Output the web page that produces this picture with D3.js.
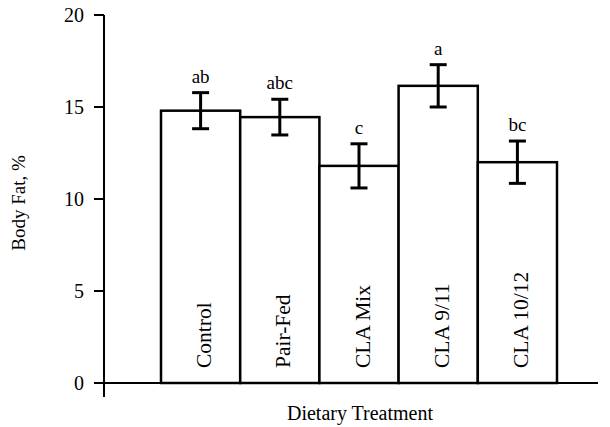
<!DOCTYPE html>
<html>
<head>
<meta charset="utf-8">
<script src="https://cdn.jsdelivr.net/npm/d3@7"></script>
<style>
  body { margin: 0; background: #fff; }
</style>
</head>
<body>
<svg width="610" height="427"></svg>
<script>
const treatments = ["Control", "Pair-Fed", "CLA Mix", "CLA 9/11", "CLA 10/12"]
const bodyFat = [14.8, 14.45, 11.8, 16.15, 12.0]
const stdErr = [0.98, 0.97, 1.2, 1.15, 1.15]
const letters = ["ab", "abc", "c", "a", "bc"]
const yTicks = [0, 5, 10, 15, 20]

const serif = "'Liberation Serif', 'Times New Roman', Times, serif"

const svg = d3.select("svg")
    .style("font-family", serif)

const x = d3.scaleBand().domain(treatments).range([161, 557]).padding(0)
const y = d3.scaleLinear().domain([0, 20]).range([383, 15])

const data = treatments.map((t, i) => ({
    name: t,
    value: bodyFat[i],
    err: stdErr[i],
    letter: letters[i]
}))

// x axis line
svg.append("line")
    .attr("x1", 94).attr("x2", 598)
    .attr("y1", y(0)).attr("y2", y(0))
    .attr("stroke", "#000").attr("stroke-width", 2)

// y axis
svg.append("line")
    .attr("x1", 104).attr("x2", 104)
    .attr("y1", y(20)).attr("y2", 397)
    .attr("stroke", "#000").attr("stroke-width", 2)

svg.append("g")
    .selectAll("line.tick")
    .data(yTicks)
    .enter()
    .append("line")
    .attr("class", "tick")
    .attr("x1", 94).attr("x2", 104)
    .attr("y1", d => y(d)).attr("y2", d => y(d))
    .attr("stroke", "#000").attr("stroke-width", 2)

svg.append("g")
    .selectAll("text.ticklabel")
    .data(yTicks)
    .enter()
    .append("text")
    .attr("class", "ticklabel")
    .attr("x", 84)
    .attr("y", d => y(d))
    .attr("dy", "0.35em")
    .style("text-anchor", "end")
    .style("font-size", "20px")
    .text(d => d)

// bars
const barG = svg.append("g")
    .selectAll("g.bar")
    .data(data)
    .enter()
    .append("g")
    .attr("class", "bar")

barG.append("rect")
    .attr("x", d => x(d.name))
    .attr("y", d => y(d.value))
    .attr("width", x.bandwidth())
    .attr("height", d => y(0) - y(d.value))
    .attr("fill", "#fff")
    .attr("stroke", "#000")
    .attr("stroke-width", 2.5)

barG.append("text")
    .attr("transform", d => `translate(${x(d.name) + x.bandwidth() / 2 + 3}, 368) rotate(-90)`)
    .attr("dy", "0.35em")
    .style("font-size", "21.5px")
    .text(d => d.name)

// error bars
const cap = 8.5
barG.append("line")
    .attr("x1", d => x(d.name) + x.bandwidth() / 2)
    .attr("x2", d => x(d.name) + x.bandwidth() / 2)
    .attr("y1", d => y(d.value + d.err))
    .attr("y2", d => y(d.value - d.err))
    .attr("stroke", "#000").attr("stroke-width", 3)

barG.selectAll("line.cap")
    .data(d => [d.value + d.err, d.value - d.err].map(v => ({ cx: x(d.name) + x.bandwidth() / 2, v: v })))
    .enter()
    .append("line")
    .attr("class", "cap")
    .attr("x1", d => d.cx - cap)
    .attr("x2", d => d.cx + cap)
    .attr("y1", d => y(d.v))
    .attr("y2", d => y(d.v))
    .attr("stroke", "#000").attr("stroke-width", 3)

barG.append("text")
    .attr("x", d => x(d.name) + x.bandwidth() / 2)
    .attr("y", d => y(d.value + d.err) - 10)
    .style("text-anchor", "middle")
    .style("font-size", "19px")
    .text(d => d.letter)

// axis titles
svg.append("text")
    .attr("x", 360).attr("y", 420)
    .style("text-anchor", "middle")
    .style("font-size", "20px")
    .text("Dietary Treatment")

svg.append("text")
    .attr("transform", "translate(25, 203) rotate(-90)")
    .style("text-anchor", "middle")
    .style("font-size", "19px")
    .text("Body Fat, %")
</script>
</body>
</html>
